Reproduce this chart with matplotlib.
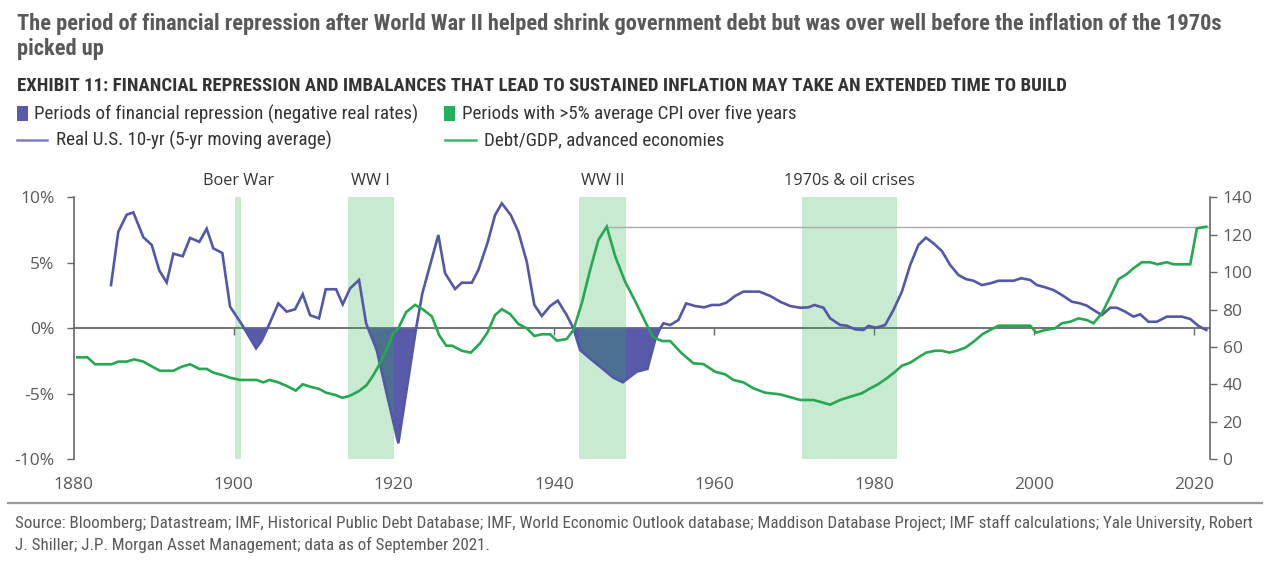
import matplotlib
matplotlib.use("Agg")
import matplotlib.pyplot as plt
import numpy as np
from matplotlib import font_manager
from matplotlib.patches import Rectangle
from matplotlib.lines import Line2D

# ---------------- data ----------------
real_years = [1884.65, 1885.56, 1886.61, 1887.44, 1888.69, 1889.74, 1890.69, 1891.61, 1892.44, 1893.61,
              1894.53, 1895.69, 1896.61, 1897.44, 1898.56, 1899.53, 1901.0, 1902.78, 1903.45, 1904.2,
              1905.56, 1906.61, 1907.65, 1908.61, 1909.53, 1910.65, 1911.49, 1912.78, 1913.61, 1914.53,
              1915.65, 1916.53, 1917.86, 1919.1, 1920.56, 1922.78, 1923.56, 1925.56, 1926.4, 1927.65,
              1928.49, 1929.74, 1930.56, 1931.69, 1932.65, 1933.49, 1934.61, 1935.56, 1936.61, 1937.56,
              1938.49, 1939.53, 1940.49, 1941.61, 1942.44, 1943.28, 1944.74, 1945.78, 1947.44, 1948.61,
              1950.36, 1951.69, 1952.65, 1953.28, 1953.69, 1954.53, 1955.56, 1956.53, 1957.65, 1958.78,
              1959.74, 1960.69, 1961.53, 1962.65, 1963.69, 1965.69, 1967.03, 1968.28, 1969.53, 1970.78,
              1971.81, 1972.56, 1973.69, 1974.53, 1975.78, 1976.61, 1977.65, 1978.69, 1979.31, 1980.28,
              1981.4, 1982.44, 1983.49, 1984.53, 1985.56, 1986.49, 1987.44, 1988.49, 1989.53, 1990.56,
              1991.49, 1992.44, 1993.49, 1994.53, 1995.56, 1997.44, 1998.4, 1999.53, 2000.36, 2001.4,
              2002.44, 2003.49, 2004.74, 2005.78, 2006.61, 2007.65, 2008.49, 2009.53, 2010.36, 2011.4,
              2012.44, 2013.28, 2014.31, 2015.36, 2016.61, 2018.49, 2019.53, 2020.56, 2021.53]
real_rate = [3.3, 7.37, 8.67, 8.85, 6.95, 6.36, 4.41, 3.5, 5.7, 5.5,
             6.9, 6.6, 7.6, 6.1, 5.75, 1.65, 0.3, -1.53, -0.97, 0.0,
             1.9, 1.27, 1.45, 2.6, 1.0, 0.76, 2.98, 2.98, 1.83, 3.05,
             3.69, 0.38, -1.66, -4.96, -8.78, 0.0, 2.67, 7.12, 4.2, 3.0,
             3.48, 3.48, 4.45, 6.49, 8.65, 9.54, 8.65, 7.37, 5.08, 1.78,
             0.94, 1.7, 2.11, 1.0, 0.0, -1.66, -2.42, -2.93, -3.77, -4.12,
             -3.31, -3.1, -0.9, 0.0, 0.38, 0.25, 0.63, 1.9, 1.7, 1.6,
             1.78, 1.78, 1.95, 2.47, 2.8, 2.8, 2.47, 2.03, 1.7, 1.57,
             1.6, 1.78, 1.57, 0.76, 0.25, 0.2, -0.08, -0.13, 0.18, 0.05,
             0.25, 1.4, 2.8, 4.83, 6.36, 6.92, 6.49, 5.9, 4.83, 4.07,
             3.76, 3.63, 3.3, 3.43, 3.63, 3.63, 3.82, 3.69, 3.3, 3.13,
             2.92, 2.54, 2.03, 1.9, 1.73, 1.32, 1.01, 1.57, 1.57, 1.27,
             0.89, 1.07, 0.5, 0.5, 0.89, 0.89, 0.71, 0.18, -0.13]

debt_years = [1880.44, 1881.69, 1882.65, 1884.74, 1885.56, 1886.61, 1887.56, 1888.69, 1889.94, 1890.78,
              1892.44, 1893.49, 1894.53, 1895.69, 1896.61, 1897.44, 1898.56, 1899.53, 1900.78, 1902.86,
              1903.69, 1904.44, 1905.56, 1906.61, 1907.74, 1908.61, 1909.53, 1910.65, 1911.53, 1912.65,
              1913.56, 1914.44, 1915.65, 1916.61, 1917.44, 1918.28, 1919.11, 1919.94, 1920.56, 1921.53,
              1922.65, 1923.59, 1924.74, 1925.65, 1926.55, 1927.28, 1928.49, 1929.61, 1930.78, 1931.69,
              1932.65, 1933.49, 1934.53, 1935.56, 1936.61, 1937.56, 1938.49, 1939.53, 1940.36, 1941.61,
              1942.44, 1943.49, 1944.53, 1945.56, 1946.61, 1947.65, 1948.9, 1950.15, 1951.61, 1952.44,
              1953.49, 1954.53, 1955.99, 1957.44, 1958.69, 1960.15, 1961.4, 1962.44, 1963.69, 1964.94,
              1966.4, 1968.28, 1970.78, 1972.44, 1974.53, 1975.78, 1977.03, 1978.49, 1979.53, 1980.56,
              1981.61, 1982.65, 1983.49, 1984.53, 1985.56, 1986.53, 1987.65, 1988.49, 1989.44, 1990.36,
              1991.4, 1992.44, 1993.61, 1994.53, 1995.56, 1999.53, 1999.81, 2000.28, 2001.4, 2002.65,
              2003.49, 2004.53, 2005.56, 2006.61, 2007.44, 2008.49, 2009.53, 2010.56, 2011.61, 2012.44,
              2013.49, 2014.53, 2015.44, 2016.61, 2017.44, 2019.53, 2020.36, 2021.53]
debt_gdp = [54.5, 54.5, 50.8, 50.8, 52.2, 52.2, 53.4, 52.2, 49.2, 47.3,
            47.3, 49.5, 50.8, 48.3, 48.3, 46.3, 45.0, 43.6, 42.4, 42.4,
            41.1, 42.4, 41.1, 39.2, 36.7, 40.1, 38.8, 37.6, 35.6, 34.4,
            32.9, 33.8, 36.5, 39.7, 45.0, 51.3, 59.3, 67.3, 70.0, 78.6,
            82.5, 80.2, 76.4, 66.4, 60.7, 60.7, 58.0, 57.0, 62.0, 67.7,
            77.1, 80.2, 77.6, 72.3, 70.0, 65.9, 66.8, 66.8, 63.4, 64.3,
            69.1, 83.4, 101.2, 117.2, 124.3, 108.6, 94.9, 84.6, 71.8, 65.2,
            63.2, 63.2, 56.6, 51.3, 50.9, 46.8, 45.4, 42.4, 41.1, 37.9,
            35.6, 34.7, 31.7, 31.7, 29.2, 31.7, 33.4, 35.3, 37.9, 40.2,
            43.3, 46.8, 50.0, 51.6, 54.5, 57.0, 58.0, 58.0, 57.0, 58.0,
            59.6, 62.8, 67.0, 69.1, 71.4, 71.4, 70.0, 67.7, 69.1, 70.0,
            72.7, 73.5, 75.3, 74.4, 72.7, 78.0, 86.9, 96.2, 99.0, 102.1,
            105.3, 105.3, 104.2, 105.3, 104.2, 104.2, 123.4, 124.3]

band_labels = ["Boer War", "WW I", "WW II", "1970s & oil crises"]
band_start = [1900.15, 1914.25, 1943.2, 1971.0]
band_end = [1900.9, 1920.0, 1949.0, 1982.9]

x_ticks = [1880, 1900, 1920, 1940, 1960, 1980, 2000, 2020]
y_ticks = [-10, -5, 0, 5, 10]
y_ticklabels = ["-10%", "-5%", "0%", "5%", "10%"]
y2_ticks = [0, 20, 40, 60, 80, 100, 120, 140]

debt_peak_year = 1946.61
debt_peak_level = 124.3

title = ("The period of financial repression after World War II helped shrink government debt but was over well before the inflation of the 1970s",
         "picked up")
subtitle = "EXHIBIT 11: FINANCIAL REPRESSION AND IMBALANCES THAT LEAD TO SUSTAINED INFLATION MAY TAKE AN EXTENDED TIME TO BUILD"
legend_labels = ["Periods of financial repression (negative real rates)",
                 "Periods with >5% average CPI over five years",
                 "Real U.S. 10-yr (5-yr moving average)",
                 "Debt/GDP, advanced economies"]
source = ("Source: Bloomberg; Datastream; IMF, Historical Public Debt Database; IMF, World Economic Outlook database; Maddison Database Project; IMF staff calculations; Yale University, Robert",
          "J. Shiller; J.P. Morgan Asset Management; data as of September 2021.")

# ---------------- style ----------------
BLUE = "#5457a8"
FILL_BLUE = "#5a5aaa"
GREEN = "#25a850"
BAND = (35 / 255, 175 / 255, 75 / 255)
GREY = "#595959"

names = {f.name for f in font_manager.fontManager.ttflist}
narrow = next((n for n in ["Liberation Sans Narrow", "Roboto Condensed", "Open Sans Condensed",
                           "DejaVu Sans Condensed"] if n in names), "Liberation Sans")
human = next((n for n in ["Open Sans", "Lato", "Noto Sans"] if n in names), "DejaVu Sans")

W, H = 1280, 566
fig = plt.figure(figsize=(W / 100, H / 100), dpi=100)
fig.patch.set_facecolor("white")


def fx(x):
    return x / W


def fy(y):
    return 1 - y / H


ax = fig.add_axes([fx(73.8), fy(459.3), fx(1210) - fx(73.8), fy(197.3) - fy(459.3)])
ax2 = ax.twinx()

rx = np.array(real_years)
ry = np.array(real_rate)

# negative real-rate fill (only the repression eras)
ax.fill_between(rx, ry, 0, where=(ry <= 0) & (rx < 1960), interpolate=True,
                color=FILL_BLUE, lw=0, zorder=1)
for s, e in zip(band_start, band_end):
    ax.axvspan(s, e, ymin=0, ymax=1, color=BAND, alpha=0.25, lw=0, zorder=2)
ax.plot(rx, ry, color=BLUE, lw=1.9, zorder=4, solid_joinstyle="miter")

ax2.plot(debt_years, debt_gdp, color=GREEN, lw=1.9, zorder=4, solid_joinstyle="miter")
ax2.plot([debt_peak_year, 2022], [debt_peak_level, debt_peak_level], color="#aaaaaa", lw=1.0, zorder=3)

ax.set_xlim(1880, 2022)
ax.set_ylim(-10, 10)
ax2.set_ylim(0, 140)

for a in (ax, ax2):
    for sp in a.spines.values():
        sp.set_visible(False)
    a.patch.set_visible(False)

ax.spines["left"].set_visible(True)
ax.spines["left"].set_color("#666666")
ax.spines["left"].set_linewidth(1.2)
ax2.spines["right"].set_visible(True)
ax2.spines["right"].set_color("#666666")
ax2.spines["right"].set_linewidth(1.2)

ax.set_yticks(y_ticks)
ax.set_yticklabels(y_ticklabels)
ax2.set_yticks(y2_ticks)
ax.tick_params(axis="y", direction="out", length=5, width=1, color="#666666",
               labelcolor=GREY, labelsize=12.5, pad=9)
ax2.tick_params(axis="y", direction="out", length=5, width=1, color="#666666",
                labelcolor=GREY, labelsize=12.5, pad=4)
ax.set_xticks(x_ticks)
ax.tick_params(axis="x", length=0, labelcolor=GREY, labelsize=12.5, pad=13)
for lab in ax.get_xticklabels() + ax.get_yticklabels() + ax2.get_yticklabels():
    lab.set_fontfamily(human)

# zero line with small downward ticks
sec = ax.secondary_xaxis(0.4999)
sec.set_xticks(x_ticks[1:])
sec.set_xticklabels([])
sec.tick_params(axis="x", direction="out", length=5, width=1, color="#666666",
                labelbottom=False, labeltop=False, top=False, bottom=True)
for sp in sec.spines.values():
    sp.set_visible(False)
sec.spines["bottom"].set_visible(True)
sec.spines["bottom"].set_color("#777777")
sec.spines["bottom"].set_linewidth(1.5)

renderer = fig.canvas.get_renderer()


def fit(t, width):
    bb = t.get_window_extent(renderer)
    t.set_fontsize(t.get_fontsize() * width / bb.width)
    return t


# band labels
band_txt = []
for lab, s, e in zip(band_labels, band_start, band_end):
    t = ax.text((s + e) / 2, 11.24, lab, ha="center", va="center", color="#333333",
                fontsize=11.5, family=human, clip_on=False)
    band_txt.append(t)
fit(band_txt[3], 131)
for t in band_txt[:3]:
    t.set_fontsize(band_txt[3].get_fontsize())

# titles
t1 = fig.text(fx(17), fy(24), title[0], ha="left", va="center", color=GREY, fontsize=13,
              fontweight="bold", family=narrow)
fit(t1, 1201)
t2 = fig.text(fx(17), fy(49), title[1], ha="left", va="center", color=GREY,
              fontsize=t1.get_fontsize(), fontweight="bold", family=narrow)
t3 = fig.text(fx(17), fy(86), subtitle, ha="left", va="center", color="#333333", fontsize=10,
              fontweight="bold", family=narrow)
fit(t3, 1040)

# legend
l1 = fig.text(fx(34), fy(114), legend_labels[0], ha="left", va="center", color="#333333",
              fontsize=11.5, family=narrow)
fit(l1, 384)
lfs = l1.get_fontsize()
l2 = fig.text(fx(462), fy(114), legend_labels[1], ha="left", va="center", color="#333333",
              fontsize=lfs, family=narrow)
l3 = fig.text(fx(56), fy(140), legend_labels[2], ha="left", va="center", color="#333333",
              fontsize=lfs, family=narrow)
l4 = fig.text(fx(484), fy(140), legend_labels[3], ha="left", va="center", color="#333333",
              fontsize=lfs, family=narrow)
fig.patches.append(Rectangle((fx(17), fy(121)), fx(11), fy(106) - fy(121), transform=fig.transFigure,
                             color=FILL_BLUE, lw=0))
fig.patches.append(Rectangle((fx(444), fy(121)), fx(11), fy(106) - fy(121), transform=fig.transFigure,
                             color="#22b15a", lw=0))
fig.lines.append(Line2D([fx(17), fx(47)], [fy(140), fy(140)], transform=fig.transFigure,
                        color="#7d7fc0", lw=1.8))
fig.lines.append(Line2D([fx(445), fx(476)], [fy(140), fy(140)], transform=fig.transFigure,
                        color="#3fb56a", lw=1.8))

# bottom rule and source
fig.lines.append(Line2D([fx(8), fx(1262)], [fy(503), fy(503)], transform=fig.transFigure,
                        color="#9a9a9a", lw=1.6))
s1 = fig.text(fx(15), fy(523), source[0], ha="left", va="center", color=GREY, fontsize=10,
              family=narrow)
fit(s1, 1234)
s2 = fig.text(fx(15), fy(545), source[1], ha="left", va="center", color=GREY,
              fontsize=s1.get_fontsize(), family=narrow)

fig.savefig("out.png", dpi=100, facecolor="white")
